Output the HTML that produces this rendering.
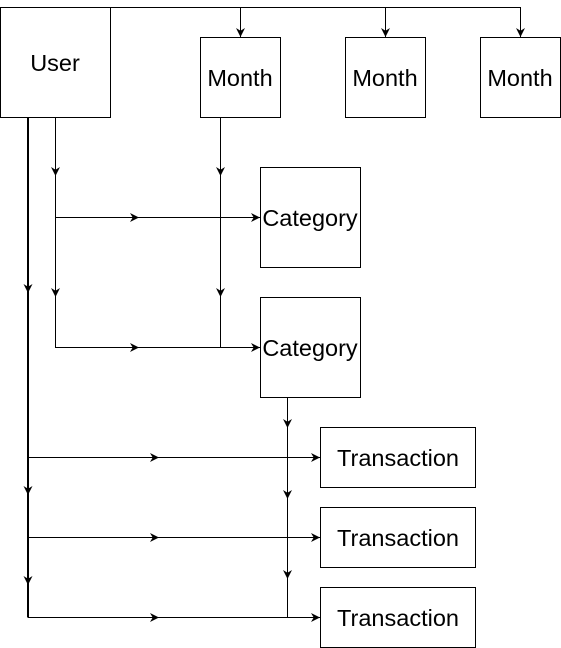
<!DOCTYPE html>
<html><head><style>body{margin:0;background:#fff}svg{display:block}text{font-family:"Liberation Sans",Arial,sans-serif;fill:#000}</style></head><body>
<svg width="561" height="648" viewBox="0 0 561 648" xmlns="http://www.w3.org/2000/svg">
<defs>
<marker id="a" viewBox="0 0 10 10" refX="10" refY="5" markerWidth="9" markerHeight="9" orient="auto" markerUnits="userSpaceOnUse"><path d="M0,0 L10,5 L0,10 L3,5 z" fill="#000"/></marker>
</defs>
<g stroke="#000" fill="none" stroke-width="1">
<path d="M110,7.5 H520.5 V37"/>
<path d="M240.5,7.5 V37" marker-end="url(#a)"/>
<path d="M385.5,7.5 V37" marker-end="url(#a)"/>
<path d="M520.5,7.5 V37" marker-end="url(#a)"/>
<rect x="0.5" y="7.5" width="110" height="110" fill="#fff"/>
<rect x="200.5" y="37.5" width="80" height="80" fill="#fff"/>
<rect x="345.5" y="37.5" width="80" height="80" fill="#fff"/>
<rect x="480.5" y="37.5" width="80" height="80" fill="#fff"/>
<rect x="260.5" y="167.5" width="100" height="100"/>
<rect x="260.5" y="297.5" width="100" height="100"/>
<rect x="320.5" y="427.5" width="155" height="60"/>
<rect x="320.5" y="507.5" width="155" height="60"/>
<rect x="320.5" y="587.5" width="155" height="60"/>
<path d="M28,118 V617.5" stroke-width="2"/>
<path d="M28,118 V293" marker-end="url(#a)" stroke-width="2"/>
<path d="M28,300 V495" marker-end="url(#a)" stroke-width="2"/>
<path d="M28,500 V585" marker-end="url(#a)" stroke-width="2"/>
<path d="M55.5,118 V347.5 H260"/>
<path d="M55.5,118 V176" marker-end="url(#a)"/>
<path d="M55.5,180 V297" marker-end="url(#a)"/>
<path d="M55.5,217.5 H139" marker-end="url(#a)"/>
<path d="M139,217.5 H260" marker-end="url(#a)"/>
<path d="M55.5,347.5 H139" marker-end="url(#a)"/>
<path d="M139,347.5 H260" marker-end="url(#a)"/>
<path d="M220.5,118 V347.5"/>
<path d="M220.5,118 V176" marker-end="url(#a)"/>
<path d="M220.5,180 V297" marker-end="url(#a)"/>
<path d="M287.5,398 V617.5"/>
<path d="M287.5,398 V428" marker-end="url(#a)"/>
<path d="M287.5,430 V499" marker-end="url(#a)"/>
<path d="M287.5,500 V579" marker-end="url(#a)"/>
<path d="M28,457.5 H159" marker-end="url(#a)"/>
<path d="M159,457.5 H320" marker-end="url(#a)"/>
<path d="M28,537.5 H159" marker-end="url(#a)"/>
<path d="M159,537.5 H320" marker-end="url(#a)"/>
<path d="M28,617.5 H159" marker-end="url(#a)"/>
<path d="M159,617.5 H320" marker-end="url(#a)"/>
</g>
<g font-size="23.5" text-anchor="middle">
<text x="55" y="71">User</text>
<text x="240" y="86">Month</text>
<text x="385" y="86">Month</text>
<text x="520" y="86">Month</text>
<text x="310" y="226">Category</text>
<text x="310" y="356">Category</text>
<text x="398" y="466">Transaction</text>
<text x="398" y="546">Transaction</text>
<text x="398" y="626">Transaction</text>
</g>
</svg>
</body></html>
